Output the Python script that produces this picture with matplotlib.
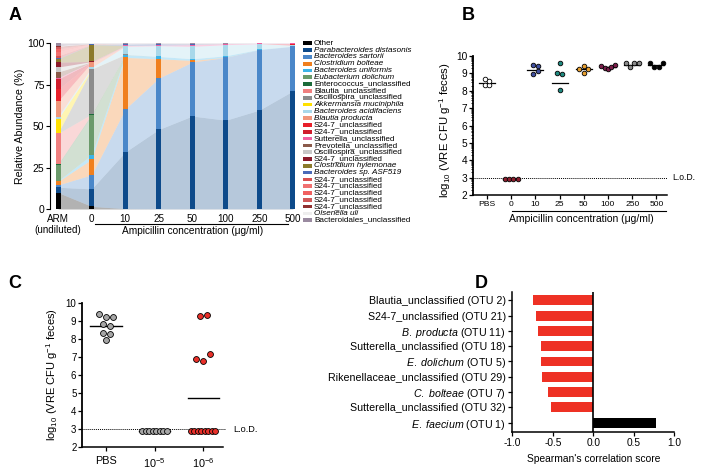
import matplotlib
matplotlib.use('Agg')
import matplotlib.pyplot as plt
from matplotlib.patches import Rectangle
from matplotlib.transforms import blended_transform_factory
import numpy as np

plt.rcParams['font.family'] = 'Liberation Sans'
plt.rcParams['mathtext.fontset'] = 'custom'
plt.rcParams['mathtext.rm'] = 'Liberation Sans'
plt.rcParams['mathtext.it'] = 'Liberation Sans:italic'
plt.rcParams['mathtext.bf'] = 'Liberation Sans:bold'
plt.rcParams['axes.linewidth'] = 1.0

W, H = 704, 470

# ---- panel A data ----
taxa = ['Other', 'Parabacteroides distasonis', 'Bacteroides sartorii',
        'Clostridium bolteae', 'Bacteroides uniformis', 'Eubacterium dolichum',
        'Enterococcus_unclassified', 'Blautia_unclassified',
        'Oscillospira_unclassified', 'Akkermansia muciniphila',
        'Bacteroides acidifaciens', 'Blautia producta', 'S24-7_unclassified',
        'S24-7_unclassified', 'Sutterella_unclassified', 'Prevotella_unclassified',
        'Oscillospira_unclassified', 'S24-7_unclassified', 'Clostridium hylemonae',
        'Bacteroides sp. ASF519', 'S24-7_unclassified', 'S24-7_unclassified',
        'S24-7_unclassified', 'S24-7_unclassified', 'S24-7_unclassified',
        'Olsenella uli', 'Bacteroidales_unclassified']
taxa_italic = [0, 1, 1, 1, 1, 1, 0, 0, 0, 1, 1, 1, 0, 0, 0, 0, 0, 0, 1, 1,
               0, 0, 0, 0, 0, 1, 0]
taxa_colors = ['#000000', '#0d4a8a', '#4a87c9', '#f07f1e', '#3cb4e8', '#6b9a6b',
               '#1b6b3a', '#f08080', '#8c8c8c', '#ffe000', '#a8d8ea', '#f0967a',
               '#e8202a', '#d01c2c', '#f060a0', '#8b5a4a', '#c8c8c8', '#8b1a2a',
               '#8b7a2a', '#4a6ab8', '#d85050', '#f07070', '#f06060', '#d05858',
               '#903030', '#eeeeee', '#9a8aa0']
samples = ['ARM\n(undiluted)', '0', '10', '25', '50', '100', '250', '500']

ab_arm = [9.9, 3.2, 1.4, 2.1, 0.4, 9.7, 0.3, 18.5, 0.3, 8.5, 1.3, 9.4, 7.0, 6.2,
          0.8, 3.5, 3.0, 3.0, 2.0, 0.3, 1.5, 2.5, 1.5, 1.2, 0.5, 0.3, 1.7]
ab_0 = [1.6, 10.5, 8.5, 9.3, 2.8, 23.9, 0.4, 0.2, 27.0, 0.1, 1.0, 3.0, 0.1, 0.1,
        0.1, 0.1, 0.1, 0.1, 10.1, 0.1, 0.1, 0.1, 0.1, 0.1, 0.1, 0.1, 0.3]
ab_10 = [0.2, 34.1, 25.9, 31.1, 1.6, 0.1, 0, 0, 0.1, 0, 4.9, 0.1, 0, 0,
         0.4, 0, 0, 0, 0.1, 0.8, 0, 0, 0, 0, 0, 0.2, 0.4]
ab_25 = [0.1, 47.8, 30.9, 11.7, 1.4, 0, 0, 0, 0, 0, 6.5, 0, 0, 0,
         0.3, 0, 0, 0, 0, 0.8, 0, 0, 0, 0, 0, 0, 0.5]
ab_50 = [0.1, 55.9, 32.5, 1.0, 1.0, 0, 0, 0, 0, 0, 7.5, 0, 0, 0,
         1.0, 0, 0, 0, 0, 0.3, 0, 0, 0, 0, 0, 0, 0.7]
ab_100 = [0.1, 53.4, 37.8, 0.1, 0.9, 0, 0, 0, 0, 0, 6.7, 0, 0, 0,
          0.6, 0, 0, 0, 0, 0, 0, 0, 0, 0, 0, 0, 0.4]
ab_250 = [0.1, 59.5, 36.4, 0, 0.2, 0, 0, 0, 0, 0, 3.4, 0, 0, 0,
          0.2, 0, 0, 0, 0, 0, 0, 0, 0, 0, 0, 0, 0.2]
ab_500 = [0.1, 71.0, 26.9, 0, 0.1, 0, 0, 0, 0, 0, 0.6, 0, 0.8, 0,
          0.3, 0, 0, 0, 0, 0, 0, 0, 0, 0, 0, 0, 0.2]

# ---- panel B data ----
b_groups = ['PBS', '0', '10', '25', '50', '100', '250', '500']
b_values = [[8.7, 8.35, 8.35, 8.55],
            [2.9, 2.9, 2.9, 2.9],
            [9.47, 8.94, 9.41, 9.14],
            [9.57, 9.03, 8.95, 8.03],
            [9.28, 9.41, 9.28, 9.03],
            [9.41, 9.30, 9.28, 9.34, 9.47],
            [9.57, 9.34, 9.57, 9.6],
            [9.57, 9.39, 9.34, 9.57]]
b_centre = [8.45, 2.9, 9.22, 8.42, 9.28, 9.36, 9.5, 9.48]
b_colors = ['white', '#8b1e2e', '#3f4fa0', '#1f8a80', '#e8a030', '#7a1e4a',
            '#8a8a8a', '#000000']

# ---- panel C data ----
c_groups = ['PBS', r'10$^{-5}$', r'10$^{-6}$']
c_values = [[9.36, 9.23, 9.23, 8.82, 8.71, 8.34, 8.25, 7.93],
            [2.92] * 8,
            [9.28, 9.32, 6.87, 6.76, 7.15] + [2.92] * 8]
c_centre = [8.73, 2.92, 4.75]
c_colors = ['#a6a6a6', '#a6a6a6', '#e8302a']

# ---- panel D data ----
d_labels = ['Blautia_unclassified (OTU 2)', 'S24-7_unclassified (OTU 21)',
            r'$\mathit{B.\ producta}$ (OTU 11)', 'Sutterella_unclassified (OTU 18)',
            r'$\mathit{E.\ dolichum}$ (OTU 5)', 'Rikenellaceae_unclassified (OTU 29)',
            r'$\mathit{C.\ bolteae}$ (OTU 7)', 'Sutterella_unclassified (OTU 32)',
            r'$\mathit{E.\ faecium}$ (OTU 1)']
d_scores = [-0.74, -0.71, -0.68, -0.64, -0.64, -0.63, -0.555, -0.527, 0.78]


def rect(l, t, r, b):
    return [l / W, 1 - b / H, (r - l) / W, (b - t) / H]


def swarm_offsets(vals, thr, step, maxw):
    vals = np.asarray(vals, float)
    order = np.argsort(-vals, kind='stable')
    clusters = []
    for i in order:
        if clusters and vals[clusters[-1][0]] - vals[i] < thr:
            clusters[-1].append(i)
        else:
            clusters.append([i])
    off = np.zeros(len(vals))
    for c in clusters:
        c = sorted(c)
        n = len(c)
        s = step if n < 2 else min(step, maxw / (n - 1))
        off[c] = (np.arange(n) - (n - 1) / 2) * s
    return off


def dot_axis(ax):
    for s in ['top', 'right']:
        ax.spines[s].set_visible(False)
    ax.spines['left'].set_linewidth(1.3)
    ax.spines['bottom'].set_linewidth(1.1)
    ax.set_ylim(2, 10)
    ax.set_yticks(range(2, 11))
    ax.tick_params(direction='out', length=3, width=0.9)


fig = plt.figure(figsize=(W / 100, H / 100), dpi=100)

# ================= A =================
axA = fig.add_axes(rect(50, 43, 298, 209))
xA = np.arange(len(samples))
ab = np.array([ab_arm, ab_0, ab_10, ab_25, ab_50, ab_100, ab_250, ab_500]).T
cum = np.vstack([np.zeros(len(samples)), np.cumsum(ab, axis=0)])
for k in range(len(taxa)):
    axA.fill_between(xA, cum[k], cum[k + 1], color=taxa_colors[k], alpha=0.3, lw=0)
for k in range(len(taxa)):
    axA.bar(xA, ab[k], bottom=cum[k], width=0.15, color=taxa_colors[k], lw=0)
axA.set_xlim(-0.24, 7.15)
axA.set_ylim(0, 100)
for s in ['top', 'right', 'bottom']:
    axA.spines[s].set_visible(False)
axA.spines['left'].set_linewidth(0.8)
axA.set_yticks([0, 25, 50, 75, 100])
axA.set_xticks(xA)
axA.set_xticklabels(samples, fontsize=7.1, linespacing=1.15)
axA.tick_params(axis='x', length=0, pad=3.5)
axA.tick_params(axis='y', length=3, width=0.8, labelsize=7.5, pad=1)
axA.set_ylabel('Relative Abundance (%)', fontsize=7.7)
axA.yaxis.set_label_coords(-0.1, 0.5)
trA = blended_transform_factory(axA.transData, axA.transAxes)
axA.plot([1.1, 6.85], [-0.088, -0.088], color='k', lw=0.8, transform=trA, clip_on=False)
axA.text(4.0, -0.133, 'Ampicillin concentration (μg/ml)', fontsize=7.3,
         ha='center', va='center', transform=trA)

# legend for A
for i, (name, col, it) in enumerate(zip(taxa, taxa_colors, taxa_italic)):
    y = 43.3 + i * 6.8
    fig.add_artist(Rectangle((303 / W, 1 - (y + 1.8) / H), 8.5 / W, 3.6 / H,
                             transform=fig.transFigure, color=col, lw=0))
    fig.text(314 / W, 1 - y / H, name, fontsize=5.9, va='center', ha='left',
             style='italic' if it else 'normal')

# ================= B =================
axB = fig.add_axes(rect(473, 56, 667, 195))
dot_axis(axB)
axB.set_xlim(-0.58, 7.44)
for i, (vals, col) in enumerate(zip(b_values, b_colors)):
    off = swarm_offsets(vals, 0.28, 0.19, 0.55)
    axB.scatter(i + off, vals, s=11, color=col, edgecolor='k', lw=0.6, zorder=3)
    axB.plot([i - 0.33, i + 0.33], [b_centre[i]] * 2, color='k', lw=0.9, zorder=2)
axB.axhline(3, color='k', lw=0.7, ls=(0, (1, 1)), zorder=1)
trB = blended_transform_factory(axB.transAxes, axB.transData)
axB.text(1.025, 3, 'L.o.D.', fontsize=6.2, ha='left', va='center', transform=trB)
axB.set_xticks(range(len(b_groups)))
axB.set_xticklabels(b_groups, fontsize=6.1)
axB.tick_params(axis='x', pad=1.5)
axB.tick_params(axis='y', labelsize=7.3, pad=1)
axB.set_yticks([n + np.log10(k) for n in range(2, 10) for k in range(2, 10)],
               minor=True)
axB.tick_params(axis='y', which='minor', length=1.6, width=0.6)
axB.set_ylabel(r'log$_{10}$ (VRE CFU g$^{-1}$ feces)', fontsize=8.2)
axB.yaxis.set_label_coords(-0.105, 0.47)
trB2 = blended_transform_factory(axB.transData, axB.transAxes)
axB.plot([1.05, 7.4], [-0.115, -0.115], color='k', lw=0.8, transform=trB2, clip_on=False)
axB.text(3.9, -0.175, 'Ampicillin concentration (μg/ml)', fontsize=7.5,
         ha='center', va='center', transform=trB2)

# ================= C =================
axC = fig.add_axes(rect(82, 302.7, 223, 447.3))
dot_axis(axC)
axC.set_xlim(-0.495, 2.41)
for i, (vals, col) in enumerate(zip(c_values, c_colors)):
    off = swarm_offsets(vals, 0.4, 0.145, 0.5)
    axC.scatter(i + off, vals, s=18, color=col, edgecolor='k', lw=0.6, zorder=3)
    axC.plot([i - 0.32, i + 0.32], [c_centre[i]] * 2, color='k', lw=1.0, zorder=2)
axC.axhline(3, xmax=1.015, color='k', lw=0.7, ls=(0, (1, 1)), zorder=1, clip_on=False)
trC = blended_transform_factory(axC.transAxes, axC.transData)
axC.text(1.07, 3, 'L.o.D.', fontsize=6.6, ha='left', va='center', transform=trC)
axC.set_xticks(range(len(c_groups)))
axC.set_xticklabels(c_groups, fontsize=7.8)
axC.tick_params(axis='y', labelsize=7, pad=1)
axC.set_ylabel(r'log$_{10}$ (VRE CFU g$^{-1}$ feces)', fontsize=8.0)
axC.yaxis.set_label_coords(-0.155, 0.5)

# ================= D =================
axD = fig.add_axes(rect(512.3, 292, 674.3, 431.7))
yD = np.arange(len(d_labels))
d_cols = ['#ee3124' if v < 0 else '#000000' for v in d_scores]
axD.barh(yD, d_scores, height=0.65, color=d_cols, lw=0)
axD.axvline(0, color='k', lw=1.2)
axD.set_xlim(-1, 1)
axD.set_ylim(8.6, -0.55)
for s in ['top', 'right']:
    axD.spines[s].set_visible(False)
axD.spines['left'].set_linewidth(1.1)
axD.spines['bottom'].set_linewidth(1.1)
axD.set_yticks(yD)
axD.set_yticklabels(d_labels, fontsize=7.7)
axD.set_xticks([-1.0, -0.5, 0.0, 0.5, 1.0])
axD.set_xticklabels(['-1.0', '-0.5', '0.0', '0.5', '1.0'], fontsize=7.3)
axD.tick_params(direction='out', length=3, width=0.9, pad=1.5)
axD.set_xlabel("Spearman's correlation score", fontsize=7.4)
axD.xaxis.set_label_coords(0.5, -0.16)

# panel letters
for letter, (px, py) in zip('ABCD', [(15, 15), (468, 15), (15, 283), (481, 283)]):
    fig.text(px / W, 1 - py / H, letter, fontsize=13, fontweight='bold',
             ha='center', va='center')

fig.savefig('out.png', dpi=100)
